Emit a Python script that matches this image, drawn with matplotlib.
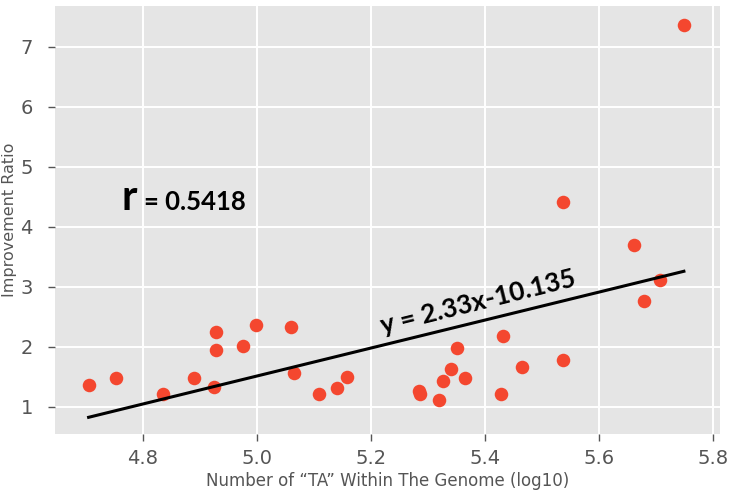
import numpy as np
import matplotlib
matplotlib.use("Agg")
import matplotlib.pyplot as plt

# values
ta_log10 = [4.705, 4.753, 4.836, 4.890, 4.928, 4.928, 4.925, 4.976, 4.999,
            5.060, 5.065, 5.109, 5.140, 5.158, 5.284, 5.286, 5.320, 5.327,
            5.340, 5.351, 5.365, 5.432, 5.429, 5.465, 5.537, 5.537, 5.662,
            5.679, 5.707, 5.749]
improvement = [1.37, 1.48, 1.22, 1.48, 2.25, 1.95, 1.34, 2.02, 2.36,
               2.33, 1.57, 1.22, 1.32, 1.50, 1.27, 1.21, 1.12, 1.43,
               1.64, 1.99, 1.49, 2.19, 1.22, 1.67, 1.78, 4.41, 3.69,
               2.77, 3.12, 7.36]
slope = 2.33
intercept = -10.135
r_value = 0.5418
x_ticks = [4.8, 5.0, 5.2, 5.4, 5.6, 5.8]
y_ticks = [1, 2, 3, 4, 5, 6, 7]

plt.style.use("ggplot")

fig = plt.figure(figsize=(7.33, 4.94), dpi=100)
ax = fig.add_axes([0.075, 0.1215, 0.907, 0.8665])

ax.scatter(ta_log10, improvement, s=95, color="#f4472f", zorder=3, linewidths=0)

fit_x = np.array([min(ta_log10), max(ta_log10)])
ax.plot(fit_x, slope * fit_x + intercept, color="black", linewidth=2.2, zorder=4)

ax.set_xlim(4.646, 5.812)
ax.set_ylim(0.55, 7.68)
ax.set_xticks(x_ticks)
ax.set_yticks(y_ticks)
ax.set_xticklabels([f"{t:.1f}" for t in x_ticks])
ax.set_facecolor("#e5e5e5")
ax.grid(True, color="white", linewidth=1.4)
ax.set_axisbelow(True)
for s in ax.spines.values():
    s.set_visible(False)
ax.tick_params(axis="both", colors="#555555", labelsize=14, length=5, width=1,
               direction="out")
ax.tick_params(axis="x", pad=6)
ax.tick_params(axis="y", pad=11)

ax.set_xlabel("Number of \u201cTA\u201d Within The Genome (log10)",
              fontsize=12, color="#555555", labelpad=3)
ax.set_ylabel("Improvement Ratio", fontsize=11.5, color="#555555", labelpad=2)

# annotations added on top of the plot
ax.text(4.763, 4.28, "r", fontsize=30, fontweight="bold", family="Lato",
        color="black", va="baseline")
ax.text(4.802, 4.28, f"= {r_value}", fontsize=18.5, fontweight="bold", family="Lato",
        color="black", va="baseline")
ax.text(5.391, 2.62, f"y = {slope}x{intercept}", fontsize=19, fontweight="bold",
        family="Lato", color="black", rotation=14, rotation_mode="anchor",
        ha="center", va="baseline")

fig.savefig("out.png", dpi=100)
